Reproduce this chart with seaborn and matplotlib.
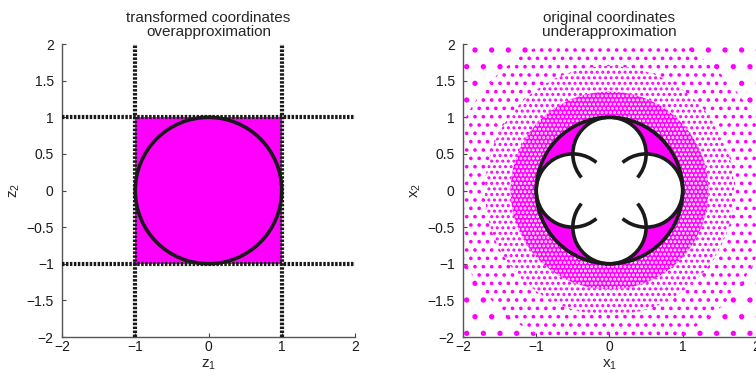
import matplotlib
matplotlib.use('Agg')
import matplotlib.pyplot as plt
from matplotlib.patches import Circle, Arc, Rectangle, Wedge
import seaborn as sns

# left panel: box [-1,1]^2 in transformed coordinates and the unit circle
box_lo, box_hi = -1.0, 1.0
box_lines = [-1.0, 1.0]
circle_r = 1.0

# right panel: four lobes (radius 0.5) inside the unit circle
lobe_x = [0.5, 0.0, -0.5, 0.0]
lobe_y = [0.0, 0.5, 0.0, -0.5]
lobe_r = 0.5
arc_start = [-130, -40, 50, 140]
arc_end = [130, 220, 310, 400]

# sample cloud in original coordinates, as density bands (radius edges);
# the innermost band is nearly solid, so it is magenta with white gaps
band_edges = [1.0, 1.35, 1.7, 2.2, 3.2]
band_hatch = ['....', '...', '..', '.']
band_solid = [True, False, False, False]

ticks_x = [-2, -1, 0, 1, 2]
ticks_y = [-2, -1.5, -1, -0.5, 0, 0.5, 1, 1.5, 2]
titles = ['transformed coordinates\noverapproximation',
          'original coordinates\nunderapproximation']
xlabels = ['z$_1$', 'x$_1$']
ylabels = ['z$_2$', 'x$_2$']

MAG = '#ff00ff'

sns.set_theme(style='ticks')
plt.rcParams['font.family'] = ['Liberation Sans', 'DejaVu Sans']
plt.rcParams['mathtext.default'] = 'regular'
plt.rcParams['hatch.linewidth'] = 1.4

fig = plt.figure(figsize=(7.56, 3.88), dpi=100)
axl = fig.add_axes([0.082, 0.1314, 0.3876, 0.755])
axr = fig.add_axes([0.6124, 0.1314, 0.3876, 0.755])

# --- left: transformed coordinates
axl.add_patch(Rectangle((box_lo, box_lo), box_hi - box_lo, box_hi - box_lo,
                        facecolor=MAG, edgecolor='none', zorder=1))
for v in box_lines:
    axl.axhline(v, color='k', lw=3, ls=(0, (0.6, 0.35)), zorder=3)
    axl.axvline(v, color='k', lw=3, ls=(0, (0.6, 0.35)), zorder=3)
axl.add_patch(Circle((0, 0), circle_r, facecolor='none', edgecolor='k',
                     lw=2.6, zorder=4))

# --- right: original coordinates
for k, h in enumerate(band_hatch):
    r_in, r_out = band_edges[k], band_edges[k + 1]
    if band_solid[k]:
        fc, ec = MAG, 'white'
    else:
        fc, ec = 'none', MAG
    axr.add_patch(Wedge((0, 0), r_out, 0, 360, width=r_out - r_in,
                        facecolor=fc, edgecolor=ec, lw=0, hatch=h, zorder=1))
axr.add_patch(Circle((0, 0), circle_r, facecolor=MAG, edgecolor='none', zorder=2))
for cx, cy in zip(lobe_x, lobe_y):
    axr.add_patch(Circle((cx, cy), lobe_r, facecolor='white', edgecolor='none',
                         zorder=3))
for cx, cy, t1, t2 in zip(lobe_x, lobe_y, arc_start, arc_end):
    axr.add_patch(Arc((cx, cy), 2 * lobe_r, 2 * lobe_r, theta1=t1, theta2=t2,
                      color='k', lw=2.6, zorder=4))
axr.add_patch(Circle((0, 0), circle_r, facecolor='none', edgecolor='k',
                     lw=2.6, zorder=5))

for ax, t, xl, yl in zip([axl, axr], titles, xlabels, ylabels):
    ax.set_xlim(-2, 2)
    ax.set_ylim(-2, 2)
    ax.set_xticks(ticks_x)
    ax.set_yticks(ticks_y)
    ax.set_xticklabels([str(v).replace('-', '\u2212') for v in ticks_x])
    ax.set_yticklabels([('%g' % v).replace('-', '\u2212') for v in ticks_y])
    ax.tick_params(direction='in', length=3, width=0.8, color='#444',
                   labelsize=10, labelcolor='k')
    ax.tick_params(axis='y', pad=6)
    ax.tick_params(axis='x', pad=2)
    ax.set_title(t, fontsize=11, pad=6, linespacing=1.0)
    ax.set_xlabel(xl, fontsize=11, labelpad=3)
    ax.set_ylabel(yl, fontsize=11, labelpad=3)
    sns.despine(ax=ax)
    for s in ['left', 'bottom']:
        ax.spines[s].set_color('#555')
        ax.spines[s].set_linewidth(1.0)
    ax.set_facecolor('white')

fig.savefig('out.png', dpi=100)
